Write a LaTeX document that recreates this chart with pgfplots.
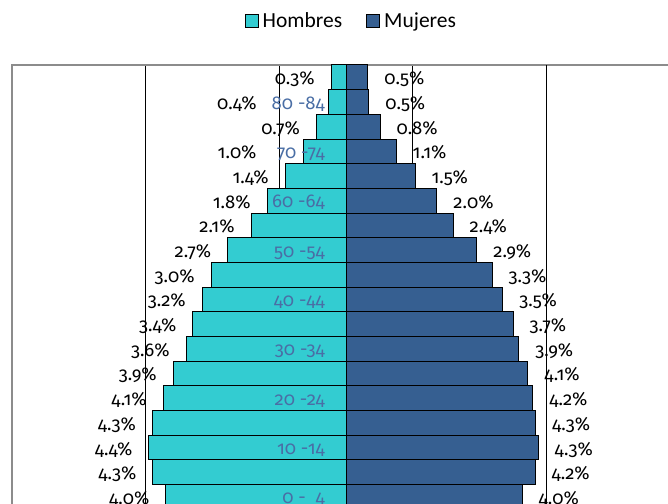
\documentclass[border=0pt]{standalone}
\usepackage{fontspec}
\setmainfont{Carlito}
\newfontfamily\numfont{Fira Sans}[Numbers=OldStyle]
\usepackage{pgfplots}
\pgfplotsset{compat=1.18}
\usepackage{pgfplotstable}

\definecolor{hombres}{RGB}{51,204,209}
\definecolor{mujeres}{RGB}{54,95,145}
\definecolor{edad}{RGB}{74,110,165}
\newcommand\lblfont{\numfont\fontsize{18.5}{22}\selectfont}

% y = age group (0 = 0-4 ... 17 = 85+), val in %, lab = printed value, dx = label shift (pt)
\pgfplotstableread{
y  val    lab  dx
0  -4.02  4.0  -16
1  -4.31  4.3  -16
2  -4.40  4.4  -16
3  -4.32  4.3  -16
4  -4.08  4.1  -16
5  -3.86  3.9  -16
6  -3.57  3.6  -16
7  -3.42  3.4  -16
8  -3.21  3.2  -16
9  -3.01  3.0  -16
10 -2.64  2.7  -16
11 -2.12  2.1  -16
12 -1.76  1.8  -16
13 -1.36  1.4  -16
14 -0.96  1.0  -46
15 -0.66  0.7  -16
16 -0.40  0.4  -71
17 -0.33  0.3  -16
}\tabH

\pgfplotstableread{
y  val   lab  dx
0  3.93  4.0  16
1  4.22  4.2  16
2  4.29  4.3  16
3  4.23  4.3  16
4  4.17  4.2  16
5  4.06  4.1  16
6  3.86  3.9  16
7  3.73  3.7  16
8  3.50  3.5  16
9  3.26  3.3  16
10 2.92  2.9  16
11 2.39  2.4  16
12 2.03  2.0  16
13 1.54  1.5  16
14 1.12  1.1  16
15 0.76  0.8  16
16 0.51  0.5  16
17 0.49  0.5  16
}\tabM

\begin{document}
\begin{tikzpicture}
\path[use as bounding box] (0,0) rectangle (668pt,503pt);
\clip (0,0) rectangle (668pt,503pt);
\begin{axis}[
  at={(12pt,-6.2pt)}, anchor=south west,
  scale only axis, width=668pt, height=444.2pt,
  xmin=-7.455, xmax=7.455, ymin=-0.5, ymax=17.5,
  bar width=1, bar shift=0pt,
  xtick={-4.47,-1.49,1.49}, xticklabels={},
  extra x ticks={4.47}, extra x tick labels={},
  extra x tick style={grid style={draw=black!45, line width=2pt}},
  xmajorgrids,
  major grid style={draw=black, line width=0.8pt},
  ytick=\empty,
  major tick length=0pt,
  axis line style={draw=black!45, line width=2pt},
  /pgf/number format/assume math mode=true,
  legend style={at={(0.508,1.099)}, anchor=center, draw=none,
    legend columns=2, font=\fontsize{21.5}{25}\selectfont,
    /tikz/every odd column/.append style={column sep=2pt},
    /tikz/every even column/.append style={column sep=22pt}},
  legend image code/.code={\draw[#1, draw=black, line width=1pt] (0pt,-6.5pt) rectangle (13pt,6.5pt);},
]

\addplot[xbar, fill=hombres, draw=black, line width=1pt,
  point meta=explicit,
  visualization depends on={\thisrow{dx}\as\dx},
  nodes near coords={\pgfmathprintnumber[fixed,fixed zerofill,precision=1]{\pgfplotspointmeta}\%},
  every node near coord/.append style={anchor=base east, xshift=\dx pt, yshift=-7.5pt,
    inner sep=0pt, text=black, font=\lblfont},
] table[x=val, y=y, meta=lab] {\tabH};
\addlegendentry{Hombres}

\addplot[xbar, fill=mujeres, draw=black, line width=1pt,
  point meta=explicit,
  visualization depends on={\thisrow{dx}\as\dx},
  nodes near coords={\pgfmathprintnumber[fixed,fixed zerofill,precision=1]{\pgfplotspointmeta}\%},
  every node near coord/.append style={anchor=base west, xshift=\dx pt, yshift=-7.5pt,
    inner sep=0pt, text=black, font=\lblfont},
] table[x=val, y=y, meta=lab] {\tabM};
\addlegendentry{Mujeres}

% age group labels
\addplot[draw=none, mark=none, forget plot,
  point meta=explicit symbolic,
  nodes near coords,
  every node near coord/.append style={anchor=base east, yshift=-7pt,
    inner sep=0pt, text=edad, font=\lblfont},
] coordinates {
  (-0.47,0) [0 - \ 4]
  (-0.47,2) [10 -14]
  (-0.47,4) [20 -24]
  (-0.47,6) [30 -34]
  (-0.47,8) [40 -44]
  (-0.47,10) [50 -54]
  (-0.47,12) [60 -64]
  (-0.47,14) [70 -74]
  (-0.47,16) [80 -84]
};
\end{axis}
\end{tikzpicture}
\end{document}
